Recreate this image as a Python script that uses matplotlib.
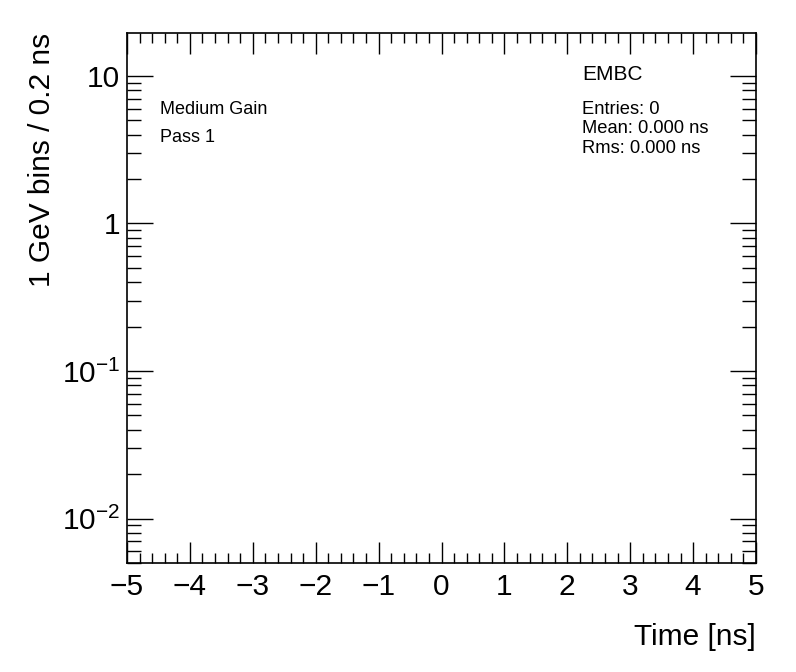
"""Empty EMBC timing histogram, ROOT-style frame."""

import numpy as np
import matplotlib

matplotlib.use("Agg")
import matplotlib.pyplot as plt
from matplotlib.ticker import FixedLocator, MultipleLocator, LogLocator, NullFormatter

plt.rcParams["font.family"] = ["Liberation Sans", "DejaVu Sans"]
plt.rcParams["mathtext.fontset"] = "custom"
plt.rcParams["mathtext.rm"] = "Liberation Sans"
plt.rcParams["mathtext.it"] = "Liberation Sans:italic"

# data: no entries recorded in this pass
times_ns = []
bin_edges = [-5.0 + 0.2 * i for i in range(51)]
x_range = (-5, 5)
y_range = (0.005, 19.5)
y_ticks = [0.01, 0.1, 1, 10]
y_tick_labels = ["$10^{-2}$", "$10^{-1}$", "1", "10"]
x_ticks = [-5, -4, -3, -2, -1, 0, 1, 2, 3, 4, 5]

title = "EMBC"
gain_label = "Medium Gain"
pass_label = "Pass 1"
n_entries = len(times_ns)
mean = float(np.mean(times_ns)) if times_ns else 0.0
rms = float(np.std(times_ns)) if times_ns else 0.0

fig = plt.figure(figsize=(7.96, 6.72), dpi=100)
W, H = 796, 672
ax = fig.add_axes([127 / W, 1 - 563 / H, (756 - 127) / W, (563 - 33) / H])

counts, _ = np.histogram(times_ns, bins=bin_edges)
ax.stairs(np.where(counts > 0, counts, np.nan), bin_edges, color="black", lw=1)

ax.set_yscale("log")
ax.set_xlim(*x_range)
ax.set_ylim(*y_range)

ax.xaxis.set_major_locator(FixedLocator(x_ticks))
ax.xaxis.set_minor_locator(MultipleLocator(0.2))
ax.set_yticks(y_ticks)
ax.set_yticklabels(y_tick_labels)
ax.yaxis.set_minor_locator(LogLocator(base=10, subs=np.arange(2, 10)))
ax.yaxis.set_minor_formatter(NullFormatter())

ax.tick_params(which="both", direction="in", top=True, right=True, width=1, colors="black")
ax.tick_params(axis="x", which="major", length=15, labelsize=21.5, pad=7)
ax.tick_params(axis="x", which="minor", length=7.5)
ax.tick_params(axis="y", which="major", length=19, labelsize=21.5, pad=5)
ax.tick_params(axis="y", which="minor", length=10)
for s in ax.spines.values():
    s.set_linewidth(1.2)

ax.set_xlabel("Time [ns]", fontsize=21.5, loc="right", labelpad=16)
ax.set_ylabel("1 GeV bins / 0.2 ns", fontsize=21.5, loc="top", labelpad=4)

fig.text(160 / W, 1 - 114 / H, gain_label, fontsize=13, va="baseline")
fig.text(160 / W, 1 - 142 / H, pass_label, fontsize=13, va="baseline")
fig.text(582 / W, 1 - 80 / H, title, fontsize=15, va="baseline")
fig.text(582 / W, 1 - 114 / H, f"Entries: {n_entries}", fontsize=13.2, va="baseline")
fig.text(582 / W, 1 - 133 / H, f"Mean: {mean:.3f} ns", fontsize=13.2, va="baseline")
fig.text(582 / W, 1 - 153 / H, f"Rms: {rms:.3f} ns", fontsize=13.2, va="baseline")

fig.savefig("out.png", dpi=100)
plt.close(fig)
